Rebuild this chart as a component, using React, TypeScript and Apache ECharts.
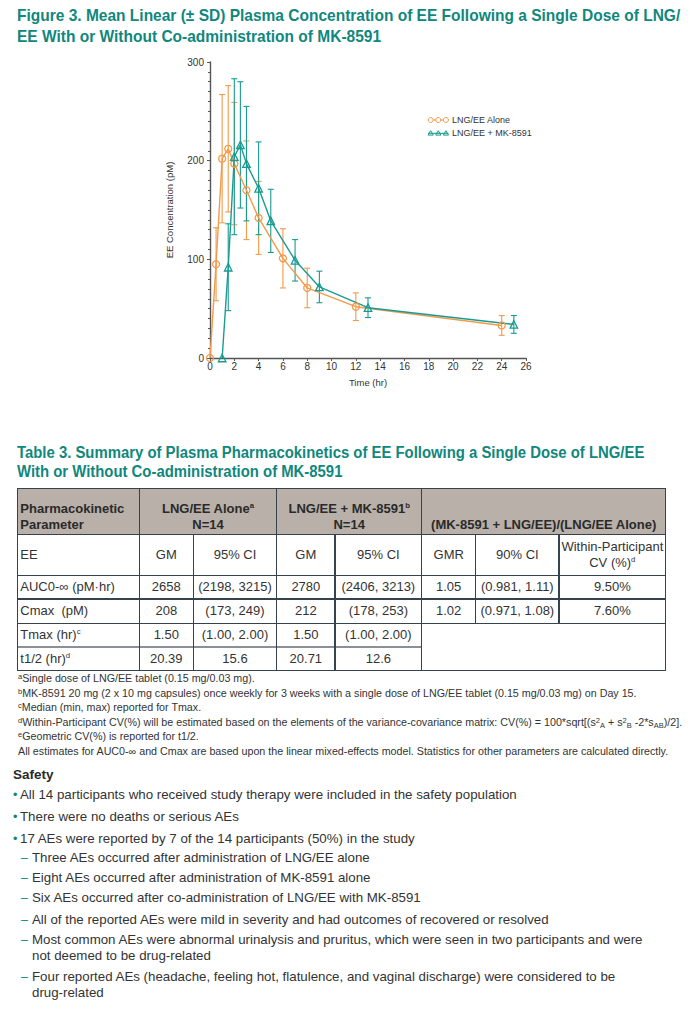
import React, { useEffect, useRef } from "react";
import * as echarts from "echarts";

const TEAL = "#10877d";
const ORANGE = "#f39a4b";
const LINE_TEAL = "#179c92";
const TEXT = "#333";
const FONT = '"Liberation Sans", Arial, sans-serif';

// Chart data (time in hr as plotted, mean pM and SD)
const aloneX = [0, 0.5, 1, 1.5, 2, 3, 4, 6, 8, 12, 24];
const aloneMean = [0, 95, 202, 212, 197, 170, 142, 101, 71, 52, 33];
const aloneSD = [0, 37, 65, 64, 62, 50, 37, 30, 20, 14, 10];
const comboX = [1, 1.5, 2, 2.5, 3, 4, 5, 7, 9, 13, 25];
const comboMean = [0, 92, 204, 216, 197, 172, 139, 99, 72, 51, 34];
const comboSD = [0, 44, 79, 64, 58, 47, 32, 21, 16, 10, 9];
const seriesNames = ["LNG/EE Alone", "LNG/EE + MK-8591"];

// Table data
const rowLabels = ["AUC0-∞ (pM·hr)", "Cmax  (pM)", "Tmax (hr)", "t1/2 (hr)"];
const rowLabelSups = ["", "", "c", "d"];
const aloneGM = ["2658", "208", "1.50", "20.39"];
const aloneCI = ["(2198, 3215)", "(173, 249)", "(1.00, 2.00)", "15.6"];
const comboGM = ["2780", "212", "1.50", "20.71"];
const comboCI = ["(2406, 3213)", "(178, 253)", "(1.00, 2.00)", "12.6"];
const gmr = ["1.05", "1.02"];
const ci90 = ["(0.981, 1.11)", "(0.971, 1.08)"];
const withinCV = ["9.50%", "7.60%"];

const footnotes: [string, string][] = [
  ["a", "Single dose of LNG/EE tablet (0.15 mg/0.03 mg)."],
  ["b", "MK-8591 20 mg (2 x 10 mg capsules) once weekly for 3 weeks with a single dose of LNG/EE tablet (0.15 mg/0.03 mg) on Day 15."],
  ["c", "Median (min, max) reported for Tmax."],
  ["d", "__CV__"],
  ["e", "Geometric CV(%) is reported for t1/2."],
  ["", "All estimates for AUC0-∞ and Cmax are based upon the linear mixed-effects model. Statistics for other parameters are calculated directly."],
];

const safety: { level: number; lines: string[] }[] = [
  { level: 1, lines: ["All 14 participants who received study therapy were included in the safety population"] },
  { level: 1, lines: ["There were no deaths or serious AEs"] },
  { level: 1, lines: ["17 AEs were reported by 7 of the 14 participants (50%) in the study"] },
  { level: 2, lines: ["Three AEs occurred after administration of LNG/EE alone"] },
  { level: 2, lines: ["Eight AEs occurred after administration of MK-8591 alone"] },
  { level: 2, lines: ["Six AEs occurred after co-administration of LNG/EE with MK-8591"] },
  { level: 2, lines: ["All of the reported AEs were mild in severity and had outcomes of recovered or resolved"] },
  { level: 2, lines: ["Most common AEs were abnormal urinalysis and pruritus, which were seen in two participants and were", "not deemed to be drug-related"] },
  { level: 2, lines: ["Four reported AEs (headache, feeling hot, flatulence, and vaginal discharge) were considered to be", "drug-related"] },
];
const safetyY = [795, 817, 839, 858, 878, 898, 920, 940, 977];

const colX = [17.3, 139.3, 193.3, 276.7, 335, 421.7, 475.7, 559, 665.7];
const rowY = [488.3, 534.3, 575.7, 599, 623.3, 646.7, 670.7];
const BORDER = "#34434e";

function errData(xs: number[], m: number[], sd: number[]) {
  return xs.map((x, i) => [x, m[i] - sd[i], m[i] + sd[i]]).filter((d, i) => sd[i] > 0);
}

function Chart() {
  const ref = useRef<HTMLDivElement>(null);
  useEffect(() => {
    const chart = echarts.init(ref.current!, null, { renderer: "svg" });
    const errSeries = (name: string, data: number[][], color: string) => ({
      type: "custom",
      name,
      data,
      encode: { x: 0, y: [1, 2] },
      clip: false,
      z: 1,
      renderItem: (params: any, api: any) => {
        const x = api.value(0);
        const top = api.coord([x, api.value(2)]);
        const bot = api.coord([x, api.value(1)]);
        const w = 3;
        const st = { stroke: color, lineWidth: 1.1 };
        return {
          type: "group",
          children: [
            { type: "line", shape: { x1: top[0], y1: top[1], x2: bot[0], y2: bot[1] }, style: st },
            { type: "line", shape: { x1: top[0] - w, y1: top[1], x2: top[0] + w, y2: top[1] }, style: st },
            { type: "line", shape: { x1: bot[0] - w, y1: bot[1], x2: bot[0] + w, y2: bot[1] }, style: st },
          ],
        };
      },
    });
    const lineSeries = (name: string, xs: number[], ys: number[], color: string, symbol: string, size: number) => ({
      type: "line",
      name,
      data: xs.map((x, i) => [x, ys[i]]),
      symbol,
      symbolSize: size,
      showAllSymbol: true,
      clip: false,
      z: 3,
      lineStyle: { color, width: 1.4 },
      itemStyle: { color: "rgba(255,255,255,0)", borderColor: color, borderWidth: 1.3 },
    });
    const legendItem = (y: number, color: string, tri: boolean, label: string) => {
      const xs = [430.7, 438.3, 445.9];
      const marks = xs.map((cx) =>
        tri
          ? { type: "polygon", shape: { points: [[cx, y - 2.6], [cx - 2.6, y + 1.8], [cx + 2.6, y + 1.8]] }, style: { fill: "none", stroke: color, lineWidth: 1 } }
          : { type: "circle", shape: { cx, cy: y, r: 2.5 }, style: { fill: "#fff", stroke: color, lineWidth: 1 } }
      );
      return [
        { type: "line", shape: { x1: 428, y1: y, x2: 448.5, y2: y }, style: { stroke: color, lineWidth: 1.1 } },
        ...marks,
        { type: "text", x: 452, y, style: { text: label, fill: TEXT, fontSize: 9, fontFamily: FONT, verticalAlign: "middle" } },
      ];
    };
    chart.setOption({
      animation: false,
      textStyle: { fontFamily: FONT },
      grid: { left: 210, top: 12, width: 316, height: 296 },
      xAxis: {
        type: "value",
        min: 0,
        max: 26,
        interval: 2,
        name: "Time (hr)",
        nameLocation: "middle",
        nameGap: 19,
        nameTextStyle: { fontSize: 9.5, color: TEXT },
        axisLine: { lineStyle: { color: "#555", width: 1.4 } },
        axisTick: { length: 3, lineStyle: { color: "#555" } },
        axisLabel: { fontSize: 10, color: TEXT, margin: 3 },
        splitLine: { show: false },
      },
      yAxis: {
        type: "value",
        min: 0,
        max: 300,
        interval: 100,
        name: "EE Concentration (pM)",
        nameLocation: "middle",
        nameGap: 36,
        nameTextStyle: { fontSize: 9.5, color: TEXT },
        axisLine: { show: true, lineStyle: { color: "#555", width: 1.4 } },
        axisTick: { show: true, length: 3, lineStyle: { color: "#555" } },
        minorTick: { show: true, splitNumber: 10, length: 2, lineStyle: { color: "#555" } },
        axisLabel: { fontSize: 10, color: TEXT, margin: 6 },
        splitLine: { show: false },
      },
      graphic: [
        ...legendItem(70, ORANGE, false, seriesNames[0]),
        ...legendItem(83.3, LINE_TEAL, true, seriesNames[1]),
      ],
      series: [
        errSeries(seriesNames[0] + " SD", errData(aloneX, aloneMean, aloneSD), ORANGE),
        errSeries(seriesNames[1] + " SD", errData(comboX, comboMean, comboSD), LINE_TEAL),
        lineSeries(seriesNames[0], aloneX, aloneMean, ORANGE, "circle", 7),
        lineSeries(seriesNames[1], comboX, comboMean, LINE_TEAL, "triangle", 7.5),
      ],
    });
    return () => chart.dispose();
  }, []);
  return <div ref={ref} style={{ position: "absolute", left: 0, top: 50, width: 694, height: 345 }} />;
}

const abs = (l: number, t: number, w: number, h: number): React.CSSProperties => ({
  position: "absolute",
  left: l,
  top: t,
  width: w,
  height: h,
});

function Cell({ c0, c1, r0, r1, children, left, bold, bottom }: any) {
  return (
    <div
      style={{
        ...abs(colX[c0], rowY[r0], colX[c1] - colX[c0], rowY[r1] - rowY[r0]),
        display: "flex",
        flexDirection: "column",
        alignItems: left ? "flex-start" : "center",
        justifyContent: bottom ? "flex-end" : "center",
        paddingLeft: left ? 3 : 0,
        paddingBottom: bottom ? 1 : 0,
        boxSizing: "border-box",
        fontSize: 13,
        lineHeight: "16px",
        fontWeight: bold ? "bold" : "normal",
        textAlign: "center",
        whiteSpace: "pre",
        color: bold ? "#2a2a2a" : TEXT,
      }}
    >
      {children}
    </div>
  );
}

const sup = (s: string) => <sup style={{ fontSize: "0.6em", verticalAlign: "0.6em", lineHeight: 0 }}>{s}</sup>;

function Table() {
  const hLines: [number, number, number, string, number][] = [
    [rowY[0], colX[0], colX[8], BORDER, 1.5],
    [rowY[1], colX[0], colX[8], BORDER, 1.5],
    [rowY[2], colX[0], colX[8], BORDER, 1.2],
    [rowY[3], colX[0], colX[8], BORDER, 1.2],
    [rowY[4], colX[0], colX[8], BORDER, 1.2],
    [rowY[5], colX[0], colX[5], "#8a9096", 2],
    [rowY[6], colX[0], colX[8], BORDER, 1.5],
  ];
  const vLines: [number, number, number][] = [
    [colX[0], rowY[0], rowY[6]],
    [colX[1], rowY[0], rowY[6]],
    [colX[2], rowY[1], rowY[6]],
    [colX[3], rowY[0], rowY[6]],
    [colX[4], rowY[1], rowY[6]],
    [colX[5], rowY[0], rowY[6]],
    [colX[6], rowY[1], rowY[4]],
    [colX[7], rowY[1], rowY[4]],
    [colX[8], rowY[0], rowY[6]],
  ];
  const cells: any[] = [];
  for (let i = 0; i < 4; i++) {
    const r0 = i + 2;
    const vals = [aloneGM[i], aloneCI[i], comboGM[i], comboCI[i]];
    cells.push(
      <Cell key={"l" + i} c0={0} c1={1} r0={r0} r1={r0 + 1} left>
        <span>{rowLabels[i]}{rowLabelSups[i] ? sup(rowLabelSups[i]) : null}</span>
      </Cell>
    );
    vals.forEach((v, j) =>
      cells.push(
        <Cell key={"v" + i + j} c0={j + 1} c1={j + 2} r0={r0} r1={r0 + 1}>{v}</Cell>
      )
    );
    if (i < 2) {
      [gmr[i], ci90[i], withinCV[i]].forEach((v, j) =>
        cells.push(
          <Cell key={"g" + i + j} c0={j + 5} c1={j + 6} r0={r0} r1={r0 + 1}>{v}</Cell>
        )
      );
    }
  }
  return (
    <>
      <div style={{ ...abs(colX[0], rowY[0], colX[8] - colX[0], rowY[1] - rowY[0]), background: "#b8b0a9" }} />
      <Cell c0={0} c1={1} r0={0} r1={1} left bold bottom>
        <span style={{ textAlign: "left" }}>Pharmacokinetic<br />Parameter</span>
      </Cell>
      <Cell c0={1} c1={3} r0={0} r1={1} bold bottom>
        <span>LNG/EE Alone{sup("a")}<br />N=14</span>
      </Cell>
      <Cell c0={3} c1={5} r0={0} r1={1} bold bottom>
        <span>LNG/EE + MK-8591{sup("b")}<br />N=14</span>
      </Cell>
      <Cell c0={5} c1={8} r0={0} r1={1} bold bottom>
        <span>(MK-8591 + LNG/EE)/(LNG/EE Alone)</span>
      </Cell>
      <Cell c0={0} c1={1} r0={1} r1={2} left>EE</Cell>
      <Cell c0={1} c1={2} r0={1} r1={2}>GM</Cell>
      <Cell c0={2} c1={3} r0={1} r1={2}>95% CI</Cell>
      <Cell c0={3} c1={4} r0={1} r1={2}>GM</Cell>
      <Cell c0={4} c1={5} r0={1} r1={2}>95% CI</Cell>
      <Cell c0={5} c1={6} r0={1} r1={2}>GMR</Cell>
      <Cell c0={6} c1={7} r0={1} r1={2}>90% CI</Cell>
      <Cell c0={7} c1={8} r0={1} r1={2}>
        <span>Within-Participant<br />CV (%){sup("d")}</span>
      </Cell>
      {cells}
      {hLines.map(([y, x0, x1, c, w], i) => (
        <div key={"h" + i} style={{ ...abs(x0 - 0.75, y - w / 2, x1 - x0 + 1.5, w), background: c }} />
      ))}
      {vLines.map(([x, y0, y1], i) => (
        <div key={"v" + i} style={{ ...abs(x - 0.75, y0 - 0.75, 1.5, y1 - y0 + 1.5), background: BORDER }} />
      ))}
    </>
  );
}

function CVFormula() {
  const s = { fontSize: "0.7em", verticalAlign: "0.5em", lineHeight: 0 } as React.CSSProperties;
  const b = { fontSize: "0.7em", verticalAlign: "-0.3em", lineHeight: 0 } as React.CSSProperties;
  return (
    <span>
      Within-Participant CV(%) will be estimated based on the elements of the variance-covariance matrix: CV(%) = 100*sqrt[(s
      <span style={s}>2</span><span style={b}>A</span> + s<span style={s}>2</span><span style={b}>B</span> -2*s
      <span style={b}>AB</span>)/2].
    </span>
  );
}

export default function App() {
  useEffect(() => {
    document.body.style.margin = "0";
  }, []);
  return (
    <div style={{ position: "absolute", left: 0, top: 0, width: 694, height: 1009, overflow: "hidden", background: "#fff", fontFamily: FONT, color: TEXT }}>
      <div style={{ position: "absolute", left: 17, top: 5, color: TEAL, fontWeight: "bold", fontSize: 17, lineHeight: "21px", whiteSpace: "nowrap", transformOrigin: "0 0", transform: "scaleX(0.912)" }}>
        Figure 3. Mean Linear (± SD) Plasma Concentration of EE Following a Single Dose of LNG/
        <br />
        EE With or Without Co-administration of MK-8591
      </div>
      <Chart />
      <div style={{ position: "absolute", left: 17, top: 443, color: TEAL, fontWeight: "bold", fontSize: 16, lineHeight: "19px", whiteSpace: "nowrap", transformOrigin: "0 0", transform: "scaleX(0.93)" }}>
        Table 3. Summary of Plasma Pharmacokinetics of EE Following a Single Dose of LNG/EE
        <br />
        With or Without Co-administration of MK-8591
      </div>
      <Table />
      {footnotes.map(([s, t], i) => (
        <div key={"f" + i} style={{ position: "absolute", left: 18, top: 679 + i * 14.6 - 7, fontSize: 10, lineHeight: "14px", whiteSpace: "nowrap", transformOrigin: "0 0", transform: "scaleX(1.07)" }}>
          {s ? <sup style={{ fontSize: "0.7em", verticalAlign: "0.45em", lineHeight: 0 }}>{s}</sup> : null}
          {t === "__CV__" ? <CVFormula /> : t}
        </div>
      ))}
      <div style={{ position: "absolute", left: 13, top: 767, fontSize: 13.5, fontWeight: "bold", lineHeight: "16px", color: "#2a2a2a" }}>Safety</div>
      {safety.map((item, i) =>
        item.lines.map((ln, k) => (
          <div key={"s" + i + k} style={{ position: "absolute", left: item.level === 1 ? 20 : 32, top: safetyY[i] + k * 16 - 8, fontSize: 13.3, lineHeight: "16px", whiteSpace: "nowrap" }}>
            {ln}
          </div>
        ))
      )}
      {safety.map((item, i) => (
        <div key={"m" + i} style={{ position: "absolute", left: item.level === 1 ? 13 : 21, top: safetyY[i] - 8, fontSize: 12.5, lineHeight: "16px", color: TEAL }}>
          {item.level === 1 ? "•" : "–"}
        </div>
      ))}
    </div>
  );
}
